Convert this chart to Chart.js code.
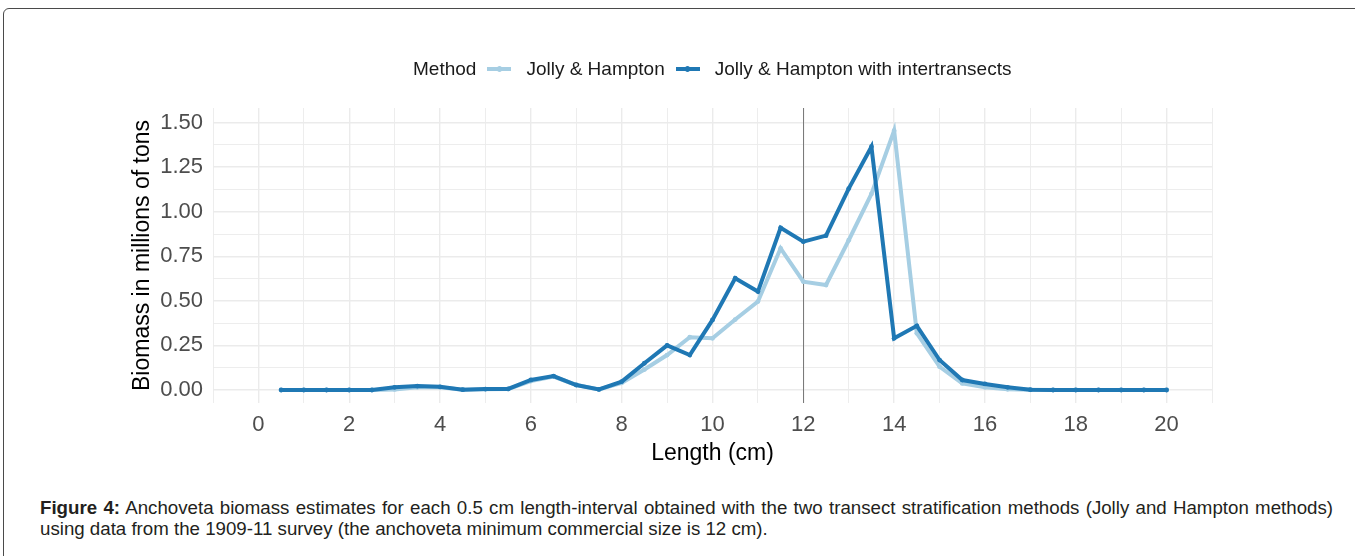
<!DOCTYPE html>
<html>
<head>
<meta charset="utf-8">
<script src="https://cdn.jsdelivr.net/npm/chart.js@4.4.1/dist/chart.umd.min.js"></script>
<style>
  html, body { margin: 0; padding: 0; background: #fff; overflow: hidden; }
  body { width: 1355px; height: 556px; position: relative; font-family: 'Liberation Sans', Arial, sans-serif; }
  #frame { position: absolute; left: 3px; top: 8px; width: 1400px; height: 600px; border: 1px solid #4a4a4a; border-radius: 6px; }
  #chart { position: absolute; left: 0; top: 0; }
  #legend { position: absolute; left: 413px; top: 57px; height: 24px; display: flex; align-items: center; font-size: 19px; color: #1a1a1a; white-space: nowrap; }
  .key { position: relative; width: 24px; height: 4px; margin: 0 15px 0 11px; }
  .key i { position: absolute; left: 9.5px; top: -1px; width: 5px; height: 6px; border-radius: 50%; background: inherit; }
  #caption { position: absolute; left: 40px; top: 497px; width: 1293px; font-size: 18.7px; line-height: 21px; color: #231f20; }
  #caption .l1 { text-align: justify; text-align-last: justify; }
</style>
</head>
<body>
<div id="frame"></div>
<canvas id="chart" width="1355" height="480"></canvas>
<div id="legend"></div>
<div id="caption">
  <div class="l1"><b>Figure 4:</b> Anchoveta biomass estimates for each 0.5 cm length-interval obtained with the two transect stratification methods (Jolly and Hampton methods)</div>
  <div>using data from the 1909-11 survey (the anchoveta minimum commercial size is 12 cm).</div>
</div>
<script>
// Length classes (cm), 0.5 cm intervals
const lengths = [0.5, 1, 1.5, 2, 2.5, 3, 3.5, 4, 4.5, 5, 5.5, 6, 6.5, 7, 7.5, 8, 8.5, 9, 9.5, 10,
                 10.5, 11, 11.5, 12, 12.5, 13, 13.5, 14, 14.5, 15, 15.5, 16, 16.5, 17, 17.5, 18, 18.5, 19, 19.5, 20];

// Biomass (millions of tons), Jolly & Hampton
const jollyHampton = [0, 0, 0, 0, 0, 0.003, 0.015, 0.015, 0.002, 0.004, 0.005, 0.05, 0.075, 0.028, 0.003, 0.04, 0.115, 0.196, 0.296, 0.29,
                      0.395, 0.496, 0.795, 0.608, 0.589, 0.84, 1.10, 1.455, 0.318, 0.131, 0.037, 0.015, 0.004, 0.001, 0, 0, 0, 0, 0, 0];

// Biomass (millions of tons), Jolly & Hampton with intertransects
const jollyHamptonInter = [0, 0, 0, 0, 0, 0.015, 0.022, 0.018, 0.002, 0.005, 0.006, 0.056, 0.078, 0.028, 0.003, 0.047, 0.15, 0.25, 0.196, 0.393,
                           0.627, 0.552, 0.91, 0.832, 0.866, 1.13, 1.365, 0.29, 0.36, 0.168, 0.056, 0.034, 0.015, 0.002, 0, 0, 0, 0, 0, 0];

const seriesLabels = ['Jolly & Hampton', 'Jolly & Hampton with intertransects'];
const seriesColors = ['#a6cee3', '#1f78b4'];

// Axis ticks
const xLabelTicks = [0, 2, 4, 6, 8, 10, 12, 14, 16, 18, 20];
const yGridTicks = [0, 0.125, 0.25, 0.375, 0.5, 0.625, 0.75, 0.875, 1, 1.125, 1.25, 1.375, 1.5];
const yLabelTicks = [0, 0.25, 0.5, 0.75, 1, 1.25, 1.5];

// Minimum commercial size (cm)
const minCommercialSize = 12;

const FONT = "'Liberation Sans', Arial, sans-serif";
const GRID = '#ebebeb';

// Legend (ggplot style: title inline with keys)
(function buildLegend() {
  const box = document.getElementById('legend');
  const title = document.createElement('span');
  title.textContent = 'Method';
  box.appendChild(title);
  seriesLabels.forEach((lab, i) => {
    const k = document.createElement('span');
    k.className = 'key';
    k.style.background = seriesColors[i];
    k.appendChild(document.createElement('i'));
    box.appendChild(k);
    const t = document.createElement('span');
    t.textContent = lab;
    box.appendChild(t);
  });
})();

// Vertical reference line at the minimum commercial size
const refLine = {
  id: 'refLine',
  beforeDatasetsDraw(chart) {
    const { ctx, chartArea: a, scales: { x } } = chart;
    const px = Math.round(x.getPixelForValue(minCommercialSize)) + 0.5;
    ctx.save();
    ctx.strokeStyle = '#7a7a7a';
    ctx.lineWidth = 1;
    ctx.beginPath();
    ctx.moveTo(px, a.top);
    ctx.lineTo(px, a.bottom);
    ctx.stroke();
    ctx.restore();
  }
};

const toPoints = arr => lengths.map((l, i) => ({ x: l, y: arr[i] }));

const lineStyle = (i) => ({
  label: seriesLabels[i],
  borderColor: seriesColors[i],
  backgroundColor: seriesColors[i],
  pointBackgroundColor: seriesColors[i],
  borderWidth: 4,
  pointRadius: 2.4,
  pointBorderWidth: 0,
  tension: 0,
  fill: false
});

new Chart(document.getElementById('chart'), {
  type: 'line',
  data: {
    datasets: [
      Object.assign({ data: toPoints(jollyHamptonInter), order: 0 }, lineStyle(1)),
      Object.assign({ data: toPoints(jollyHampton), order: 1 }, lineStyle(0))
    ]
  },
  plugins: [refLine],
  options: {
    responsive: false,
    animation: false,
    devicePixelRatio: 1,
    layout: { padding: { left: 120, right: 143, top: 108, bottom: 0 } },
    plugins: { legend: { display: false }, tooltip: { enabled: false } },
    scales: {
      x: {
        type: 'linear',
        min: -1, max: 21,
        afterFit: s => { s.height = 77; },
        ticks: {
          stepSize: 1, autoSkip: false, maxRotation: 0, padding: 9,
          color: '#4d4d4d', font: { family: FONT, size: 22 },
          callback: v => xLabelTicks.includes(v) ? String(v) : ''
        },
        grid: {
          drawTicks: false,
          color: GRID,
          lineWidth: c => (c.tick && xLabelTicks.includes(c.tick.value)) ? 1.4 : 0.9
        },
        border: { display: false },
        title: {
          display: true, text: 'Length (cm)', color: '#000',
          font: { family: FONT, size: 23 }, padding: { top: 0, bottom: 13 }
        }
      },
      y: {
        type: 'linear',
        min: -0.073, max: 1.582,
        afterBuildTicks: s => { s.ticks = yGridTicks.map(v => ({ value: v })); },
        afterFit: s => { s.width = 93; },
        ticks: {
          autoSkip: false, padding: 10,
          color: '#4d4d4d', font: { family: FONT, size: 22 },
          callback: v => yLabelTicks.includes(v) ? v.toFixed(2) : ''
        },
        grid: {
          drawTicks: false,
          color: GRID,
          lineWidth: c => (c.tick && yLabelTicks.includes(c.tick.value)) ? 1.4 : 0.9
        },
        border: { display: false },
        title: {
          display: true, text: 'Biomass in millions of tons', color: '#000',
          font: { family: FONT, size: 23 }, padding: { top: 9, bottom: 0 }
        }
      }
    }
  }
});
</script>
</body>
</html>
